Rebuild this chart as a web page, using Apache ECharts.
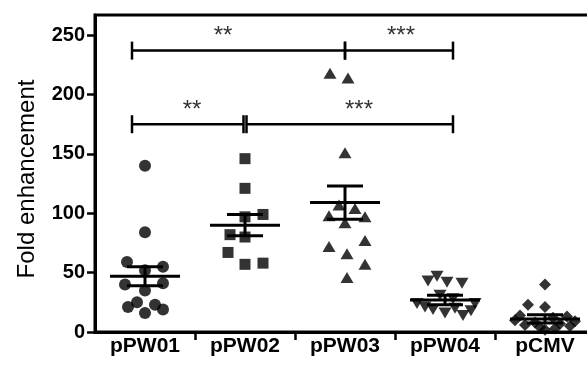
<!DOCTYPE html>
<html><head><meta charset="utf-8">
<script src="https://cdn.jsdelivr.net/npm/echarts@6/dist/echarts.min.js"></script>
<style>html,body{margin:0;padding:0;background:#fff}#c{width:587px;height:365px}</style>
</head><body><div id="c"></div>
<script>
// ---- data ----
const categories = ['pPW01', 'pPW02', 'pPW03', 'pPW04', 'pCMV'];
const yTickValues = [0, 50, 100, 150, 200, 250];
const yMax = 267;

const valsPW01 = [140, 84, 59, 55, 52, 41, 40, 35, 25, 23, 21, 19, 16];
const jitPW01  = [0, 0, -0.18, 0.18, 0, 0.18, -0.2, 0, -0.08, 0.1, -0.17, 0.18, 0];
const valsPW02 = [146, 121, 99, 97, 82, 80, 67, 57, 58];
const jitPW02  = [0, 0, 0.18, 0, -0.15, 0, -0.17, 0, 0.18];
const valsPW03 = [218, 214, 151, 107, 104, 98, 97, 92, 77, 72, 66, 57, 46];
const jitPW03  = [-0.15, 0.03, 0, -0.06, 0.1, -0.16, 0.2, 0, 0.2, -0.16, 0.02, 0.2, 0.02];
const valsPW04 = [47, 43, 42, 41, 31, 28, 24, 24, 21, 20, 19, 18, 16, 14];
const jitPW04  = [-0.08, -0.17, 0.02, 0.17, -0.05, 0.08, -0.28, 0.3, -0.2, 0.1, -0.12, 0.26, 0, 0.18];
const valsCMV  = [40, 23, 21, 14, 13, 12, 10, 9, 8, 7, 6, 5, 4, 3, 2];
const jitCMV   = [0, -0.17, 0, -0.25, 0.22, 0.08, -0.3, 0.3, -0.1, 0.15, -0.2, 0.25, -0.05, 0.1, 0];

const means = [47, 90, 109, 27, 11];
const sems  = [8, 9, 14, 4, 3.5];

const bracketFrom   = [-0.13, 2, -0.13, 1.015];
const bracketTo     = [2, 3.08, 0.985, 3.08];
const bracketY      = [237, 237, 175, 175];
const bracketLabel  = ['**', '***', '**', '***'];
const bracketLabelX = [0.78, 2.56, 0.47, 2.14];

// ---- chart ----
const FONT = "'Liberation Sans', Arial, sans-serif";
const chart = echarts.init(document.getElementById('c'), null, {renderer: 'canvas'});

function pts(vals, jit, idx) { return vals.map((v, i) => [idx + jit[i], v]); }

const groups = [
  {vals: valsPW01, jit: jitPW01, symbol: 'circle', size: 12, rot: 0},
  {vals: valsPW02, jit: jitPW02, symbol: 'rect', size: 11, rot: 0},
  {vals: valsPW03, jit: jitPW03, symbol: 'triangle', size: [13, 11], rot: 0},
  {vals: valsPW04, jit: jitPW04, symbol: 'triangle', size: [13, 11], rot: 180},
  {vals: valsCMV, jit: jitCMV, symbol: 'diamond', size: 12, rot: 0}
];

const series = groups.map((g, i) => ({
  type: 'scatter',
  data: pts(g.vals, g.jit, i),
  symbol: g.symbol,
  symbolSize: g.size,
  symbolRotate: g.rot,
  itemStyle: {color: '#000'},
  z: 3
}));

series.push({
  type: 'custom',
  data: means.map((m, i) => [i, m, sems[i]]),
  encode: {x: 0, y: 1},
  z: 5,
  renderItem(params, api) {
    const x = api.value(0), m = api.value(1), s = api.value(2);
    const c = api.coord([x, m]), t = api.coord([x, m + s]), b = api.coord([x, m - s]);
    const hw = api.size([0.35, 0])[0], cw = api.size([0.18, 0])[0];
    const st = {stroke: '#000', lineWidth: 3};
    return {type: 'group', children: [
      {type: 'line', shape: {x1: c[0] - hw, y1: c[1], x2: c[0] + hw, y2: c[1]}, style: st},
      {type: 'line', shape: {x1: t[0] - cw, y1: t[1], x2: t[0] + cw, y2: t[1]}, style: st},
      {type: 'line', shape: {x1: b[0] - cw, y1: b[1], x2: b[0] + cw, y2: b[1]}, style: st},
      {type: 'line', shape: {x1: c[0], y1: t[1], x2: c[0], y2: b[1]}, style: st}
    ]};
  }
});

series.push({
  type: 'custom',
  data: bracketFrom.map((f, i) => [f, bracketY[i], bracketTo[i], bracketLabelX[i]]),
  encode: {x: 0, y: 1},
  z: 6,
  renderItem(params, api) {
    const p1 = api.coord([api.value(0), api.value(1)]);
    const p2 = api.coord([api.value(2), api.value(1)]);
    const pl = api.coord([api.value(3), api.value(1)]);
    const st = {stroke: '#000', lineWidth: 2.5};
    return {type: 'group', children: [
      {type: 'line', shape: {x1: p1[0], y1: p1[1], x2: p2[0], y2: p2[1]}, style: st},
      {type: 'line', shape: {x1: p1[0], y1: p1[1] - 9, x2: p1[0], y2: p1[1] + 9}, style: st},
      {type: 'line', shape: {x1: p2[0], y1: p2[1] - 9, x2: p2[0], y2: p2[1] + 9}, style: st},
      {type: 'text', style: {text: bracketLabel[params.dataIndex], x: pl[0], y: pl[1] - 14,
        fill: '#333', font: '24px ' + FONT, align: 'center', verticalAlign: 'middle'}}
    ]};
  }
});

chart.setOption({
  animation: false,
  backgroundColor: '#fff',
  grid: {left: 95, width: 500, top: 15, bottom: 33, outerBoundsMode: 'none', containLabel: false,
    show: true, borderColor: '#000', borderWidth: 3, backgroundColor: 'transparent'},
  xAxis: {
    type: 'value', min: -0.5, max: 4.5, interval: 0.5,
    splitLine: {show: false},
    axisLine: {show: true, onZero: false, lineStyle: {color: '#000', width: 3}},
    axisTick: {show: true, length: 8, inside: false, customValues: [0.5, 1.5, 2.5, 3.5], lineStyle: {color: '#000', width: 2.5}},
    axisLabel: {show: true, customValues: [0, 1, 2, 3, 4], formatter: v => categories[Math.round(v)],
      color: '#000', fontFamily: FONT, fontWeight: 'bold', fontSize: 21, margin: 4}
  },
  yAxis: {
    type: 'value', min: 0, max: yMax, interval: 50,
    name: 'Fold enhancement', nameLocation: 'middle', nameGap: 56,
    nameTextStyle: {color: '#000', fontFamily: FONT, fontSize: 24, padding: [0, 11, 0, 0]},
    splitLine: {show: false},
    axisLine: {show: true, onZero: false, lineStyle: {color: '#000', width: 3}},
    axisTick: {show: true, length: 8, customValues: yTickValues, lineStyle: {color: '#000', width: 2.5}},
    axisLabel: {show: true, customValues: yTickValues, color: '#000', fontFamily: FONT, fontWeight: 'bold', fontSize: 20, margin: 10}
  },
  series: series
});
</script>
</body></html>
